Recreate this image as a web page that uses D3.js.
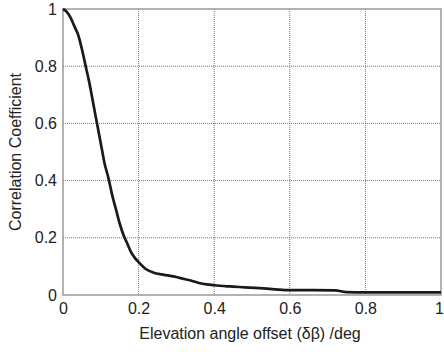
<!DOCTYPE html>
<html>
<head>
<meta charset="utf-8">
<script src="https://cdn.jsdelivr.net/npm/d3@7"></script>
<style>
  body { margin: 0; background: #fff; }
  text { font-family: "Liberation Sans", Arial, sans-serif; fill: #222; }
</style>
</head>
<body>
<svg id="chart" width="444" height="352"></svg>
<script>
// values
const offsets = [0, 0.01, 0.02, 0.03, 0.04, 0.05, 0.06, 0.07, 0.08, 0.09, 0.10,
    0.11, 0.12, 0.13, 0.14, 0.15, 0.16, 0.17, 0.18, 0.19, 0.20, 0.22, 0.24, 0.26,
    0.28, 0.30, 0.32, 0.34, 0.36, 0.38, 0.40, 0.44, 0.48, 0.52, 0.56, 0.60, 0.66,
    0.72, 0.75, 0.80, 1.0];
const correlation = [1.0, 0.99, 0.97, 0.94, 0.91, 0.86, 0.80, 0.74, 0.67, 0.60, 0.53,
    0.46, 0.41, 0.35, 0.30, 0.25, 0.21, 0.18, 0.15, 0.13, 0.115, 0.09, 0.078, 0.072,
    0.068, 0.063, 0.056, 0.050, 0.042, 0.037, 0.034, 0.030, 0.027, 0.024, 0.020, 0.017, 0.017,
    0.016, 0.010, 0.009, 0.009];
const xTicks = [0, 0.2, 0.4, 0.6, 0.8, 1];
const yTicks = [0, 0.2, 0.4, 0.6, 0.8, 1];
const xTitle = 'Elevation angle offset (\u03b4\u03b2) /deg';
const yTitle = 'Correlation Coefficient';

const chart = (() => {
    const margin = { top: 9, right: 3, bottom: 57, left: 63 };
    const svg = d3.select('#chart');
    const width = 444 - margin.left - margin.right;
    const height = 352 - margin.top - margin.bottom;
    const container = svg.append('g')
        .attr('transform', `translate(${margin.left}, ${margin.top})`);
    return { svg, container, width, height };
})();

const x = d3.scaleLinear().domain([0, 1]).range([0, chart.width]);
const y = d3.scaleLinear().domain([0, 1]).range([chart.height, 0]);

// grid
chart.container.append('g')
    .selectAll('line')
    .data(xTicks.slice(1, -1))
    .enter()
    .append('line')
    .attr('x1', d => x(d)).attr('x2', d => x(d))
    .attr('y1', 0).attr('y2', chart.height)
    .style('stroke', '#555')
    .style('stroke-width', 0.8)
    .style('stroke-dasharray', '1,1');

chart.container.append('g')
    .selectAll('line')
    .data(yTicks.slice(1, -1))
    .enter()
    .append('line')
    .attr('x1', 0).attr('x2', chart.width)
    .attr('y1', d => y(d)).attr('y2', d => y(d))
    .style('stroke', '#555')
    .style('stroke-width', 0.8)
    .style('stroke-dasharray', '1,1');

// frame
chart.container.append('rect')
    .attr('x', 0).attr('y', 0)
    .attr('width', chart.width).attr('height', chart.height)
    .style('fill', 'none')
    .style('stroke', '#999')
    .style('stroke-width', 1.5);

// axes
const xAxis = chart.container.append('g')
    .attr('transform', `translate(0, ${chart.height})`)
    .call(d3.axisBottom(x).tickValues(xTicks).tickSize(0).tickPadding(8).tickFormat(d3.format('')));
const yAxis = chart.container.append('g')
    .call(d3.axisLeft(y).tickValues(yTicks).tickSize(0).tickPadding(6).tickFormat(d3.format('')));
[xAxis, yAxis].forEach(a => {
    a.select('.domain').remove();
    a.selectAll('text').style('font-size', '16px').style('fill', '#222')
        .style('font-family', '"Liberation Sans", Arial, sans-serif');
});
// last x label sits right at the page edge, pull it in a touch
xAxis.selectAll('.tick text').filter(d => d === 1).attr('dx', -2);

// curve
const line = d3.line()
    .x((d, i) => x(offsets[i]))
    .y(d => y(d))
    .curve(d3.curveMonotoneX);

chart.container.append('path')
    .datum(correlation)
    .attr('d', line)
    .style('fill', 'none')
    .style('stroke', '#1a1a1a')
    .style('stroke-width', 2.7);

// titles
chart.svg.append('text')
    .attr('x', 250)
    .attr('y', 339)
    .attr('text-anchor', 'middle')
    .style('font-size', '16px')
    .text(xTitle);

chart.svg.append('text')
    .attr('transform', 'translate(21, 152) rotate(-90)')
    .attr('text-anchor', 'middle')
    .style('font-size', '16px')
    .text(yTitle);
</script>
</body>
</html>
